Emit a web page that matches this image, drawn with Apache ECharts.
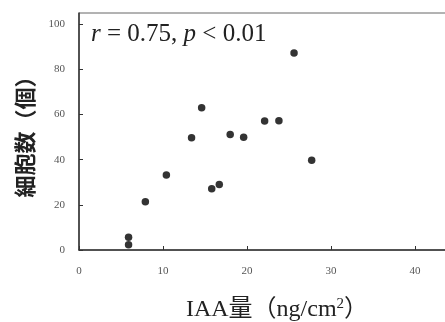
<!DOCTYPE html>
<html><head><meta charset="utf-8">
<script src="https://cdn.jsdelivr.net/npm/echarts@6/dist/echarts.min.js"></script>
<style>html,body{margin:0;padding:0;background:#fff}#c{width:445px;height:322px}</style>
</head><body><div id="c"></div>
<script>
const iaa = [5.9, 5.9, 7.9, 10.4, 13.4, 14.6, 15.8, 16.7, 18.0, 19.6, 22.1, 23.8, 25.6, 27.7];
const cells = [5.6, 2.3, 21.4, 33.2, 49.7, 63.0, 27.1, 29.0, 51.2, 50.0, 57.1, 57.3, 87.3, 39.8];
const xTicks = [0, 10, 20, 30, 40];
const yTicks = [0, 20, 40, 60, 80, 100];
const xName = 'IAA量（ng/cm{sup|2}）';
const yName = '細胞数（個）';
const note = '{i|r} = 0.75, {i|p} < 0.01';

const chart = echarts.init(document.getElementById('c'));
const serif = '"Liberation Serif", "DejaVu Serif", "Noto Sans CJK JP", serif';
chart.setOption({
  animation: false,
  grid: { left: 79, top: 13, right: -12, bottom: 72, outerBoundsMode: 'none', containLabel: false,
    show: true, borderColor: '#666', borderWidth: 1 },
  xAxis: {
    type: 'value', min: 0, max: 45, interval: 10,
    splitLine: { show: false },
    axisLine: { lineStyle: { color: '#333', width: 1.5 } },
    axisTick: { inside: true, length: 4, lineStyle: { color: '#333' }, customValues: xTicks },
    axisLabel: { customValues: xTicks, margin: 16, fontFamily: serif, fontSize: 11, color: '#555' },
    name: xName, nameLocation: 'middle', nameGap: 47,
    nameTextStyle: { fontFamily: serif, fontSize: 24, color: '#222', padding: [0, 0, 0, 18],
      rich: { sup: { fontFamily: serif, fontSize: 15, color: '#222', verticalAlign: 'top', padding: [0, 0, 10, 0] } } }
  },
  yAxis: {
    type: 'value', min: 0, max: 105, interval: 20,
    splitLine: { show: false },
    axisLine: { show: true, lineStyle: { color: '#333', width: 1.5 } },
    axisTick: { show: true, inside: true, length: 4, lineStyle: { color: '#333' }, customValues: yTicks },
    axisLabel: { customValues: yTicks, margin: 14, fontFamily: serif, fontSize: 11, color: '#555' },
    name: yName, nameLocation: 'middle', nameGap: 43,
    nameTextStyle: { fontFamily: '"Noto Sans CJK JP", sans-serif', fontWeight: 'bold', fontSize: 22, color: '#222' }
  },
  graphic: [{
    type: 'text', left: 91, top: 22,
    style: { text: note, fontFamily: serif, fontSize: 25, fill: '#222',
      rich: { i: { fontFamily: serif, fontStyle: 'italic', fontSize: 25, color: '#222' } } }
  }],
  series: [{
    type: 'scatter', symbol: 'circle', symbolSize: 7.5,
    itemStyle: { color: '#000' },
    data: iaa.map((x, i) => [x, cells[i]])
  }]
});
</script></body></html>
